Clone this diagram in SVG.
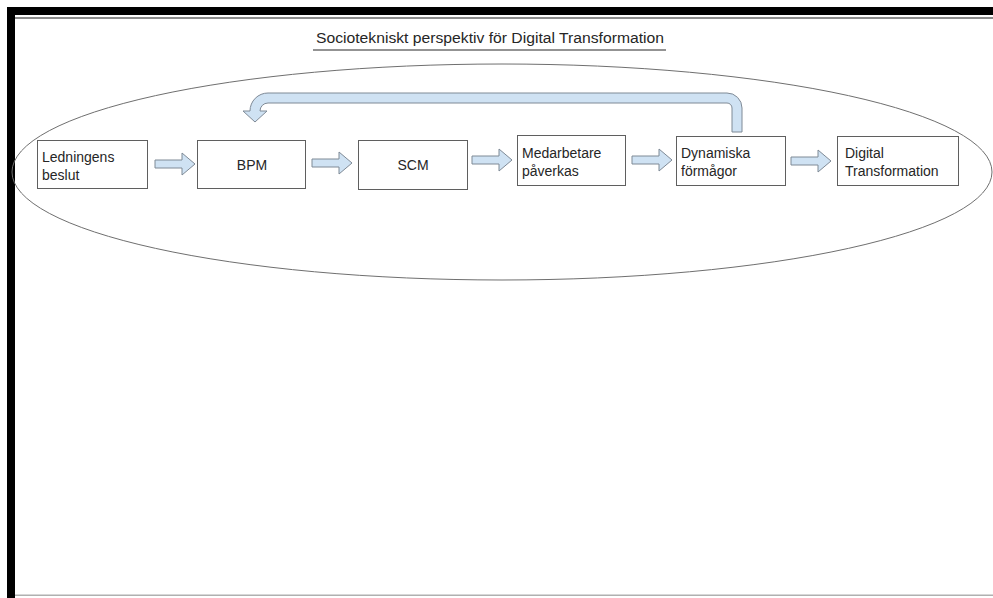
<svg xmlns="http://www.w3.org/2000/svg" width="993" height="598" viewBox="0 0 993 598">
<style>
.box{fill:#fff;stroke:#5f5f5f;stroke-width:1}
.t{font-family:"Liberation Sans",Arial,sans-serif;font-size:14px;fill:#262626}
.arr{fill:#cfe2f3;stroke:#7f8a96;stroke-width:1}
</style>
<defs>
<path id="ba" d="M0,-4 H27 V-11 L40,0 L27,11 V4 H0 Z"/>
</defs>
<rect width="993" height="598" fill="#fff"/>
<g id="frame">
<rect x="7" y="7" width="986" height="8" fill="#000"/>
<rect x="7" y="7" width="8" height="591" fill="#000"/>
<rect x="15" y="17" width="978" height="2" fill="#8c8c8c"/>
<rect x="15" y="594.5" width="978" height="1.5" fill="#b0b0b0"/>
</g>
<g id="title">
<text class="t" x="316" y="43" font-size="14" textLength="348" lengthAdjust="spacingAndGlyphs">Sociotekniskt perspektiv för Digital Transformation</text>
<line x1="313" y1="50" x2="666" y2="50" stroke="#6f6f6f" stroke-width="1.5"/>
</g>
<g id="ellipse">
<ellipse cx="502" cy="172" rx="490" ry="108" fill="none" stroke="#6f6f6f" stroke-width="1"/>
</g>
<g id="connectors">
<use href="#ba" class="arr" transform="translate(155,164)"/>
<use href="#ba" class="arr" transform="translate(312,163)"/>
<use href="#ba" class="arr" transform="translate(472,160)"/>
<use href="#ba" class="arr" transform="translate(632,160)"/>
<use href="#ba" class="arr" transform="translate(791,161)"/>
<path class="arr" d="M742,132 V108 A15,15 0 0 0 727,93 H268 A18,18 0 0 0 250,111 H243 L255,122 L267,111 H260 A8,8 0 0 1 268,103 H727 A5,5 0 0 1 732,108 V132 Z"/>
</g>
<g id="n1">
<rect class="box" x="37.5" y="140.5" width="110" height="48"/>
<text class="t" x="42" y="162">Ledningens</text>
<text class="t" x="42" y="180">beslut</text>
</g>
<g id="n2">
<rect class="box" x="197.5" y="140.5" width="108" height="48"/>
<text class="t" x="252" y="170" text-anchor="middle">BPM</text>
</g>
<g id="n3">
<rect class="box" x="358.5" y="140.5" width="109" height="49"/>
<text class="t" x="413" y="170" text-anchor="middle">SCM</text>
</g>
<g id="n4">
<rect class="box" x="517.5" y="135.5" width="108" height="50"/>
<text class="t" x="522" y="158">Medarbetare</text>
<text class="t" x="522" y="176">påverkas</text>
</g>
<g id="n5">
<rect class="box" x="676.5" y="136.5" width="109" height="49"/>
<text class="t" x="681" y="158">Dynamiska</text>
<text class="t" x="681" y="176">förmågor</text>
</g>
<g id="n6">
<rect class="box" x="837.5" y="136.5" width="121" height="49"/>
<text class="t" x="845" y="158">Digital</text>
<text class="t" x="845" y="176">Transformation</text>
</g>
</svg>
